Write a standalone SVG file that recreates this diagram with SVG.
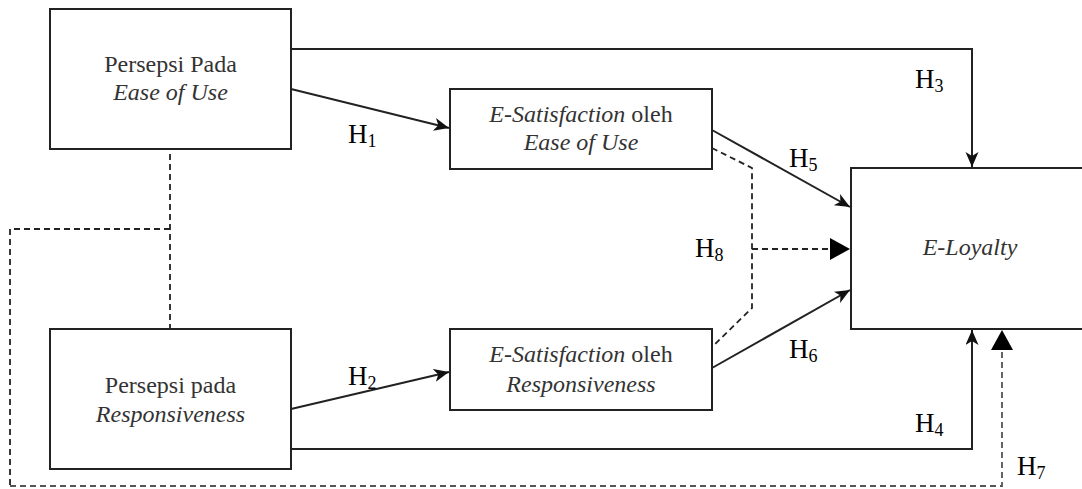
<svg xmlns="http://www.w3.org/2000/svg" width="1082" height="489" viewBox="0 0 1082 489">
<style>
.box{fill:#fff;stroke:#222;stroke-width:2}
.bt{font-family:"Liberation Serif","Times New Roman",serif;font-size:24px;fill:#333;text-anchor:middle}
.it{font-style:italic}
.lbl{font-family:"Liberation Serif","Times New Roman",serif;font-size:27px;fill:#000}
.sub{font-size:18px}
.ln{fill:none;stroke:#222;stroke-width:2}
.ds{fill:none;stroke:#222;stroke-width:1.8;stroke-dasharray:6 4}
.ds2{fill:none;stroke:#555;stroke-width:1.8;stroke-dasharray:6 4}
</style>
<defs>
<marker id="arr" markerUnits="userSpaceOnUse" markerWidth="17" markerHeight="15" refX="15" refY="6.5" orient="auto">
<path d="M0,0 L15,6.5 L0,13 L4,6.5 z" fill="#111" stroke="none"/>
</marker>
<marker id="big" markerUnits="userSpaceOnUse" markerWidth="22" markerHeight="24" refX="20" refY="11" orient="auto">
<path d="M0,0 L20,11 L0,22 z" fill="#000" stroke="none"/>
</marker>
</defs>

<g id="connectors">
<path class="ln" d="M291,49 L972,49 L972,167" marker-end="url(#arr)"/>
<path class="ln" d="M291,89 L449,128" marker-end="url(#arr)"/>
<path class="ln" d="M291,409 L449,372" marker-end="url(#arr)"/>
<path class="ln" d="M712,130 L850,207" marker-end="url(#arr)"/>
<path class="ln" d="M712,368 L850,290" marker-end="url(#arr)"/>
<path class="ln" d="M291,449 L972,449 L972,330" marker-end="url(#arr)"/>
<path class="ds" d="M712,148 L752,168 L752,308 L712,347"/>
<path class="ds" d="M752,249 L850,249" marker-end="url(#big)"/>
<path class="ds" d="M170,154 L170,329"/>
<path class="ds" d="M170,229 L10,229 L10,486"/>
<path class="ds2" d="M10,486 L1002,486 L1002,330" marker-end="url(#big)"/>
</g>

<g id="node-peou">
<rect class="box" x="50" y="9" width="241" height="140"/>
<text class="bt" x="170.5" y="72">Persepsi Pada</text>
<text class="bt it" x="170.5" y="100">Ease of Use</text>
</g>

<g id="node-pr">
<rect class="box" x="50" y="329" width="241" height="140"/>
<text class="bt" x="170.5" y="393">Persepsi pada</text>
<text class="bt it" x="170.5" y="422">Responsiveness</text>
</g>

<g id="node-es-eou">
<rect class="box" x="450" y="89" width="262" height="80"/>
<text class="bt" x="581" y="122"><tspan class="it">E-Satisfaction</tspan> oleh</text>
<text class="bt it" x="581" y="150">Ease of Use</text>
</g>

<g id="node-es-r">
<rect class="box" x="450" y="329" width="262" height="81"/>
<text class="bt" x="581" y="362"><tspan class="it">E-Satisfaction</tspan> oleh</text>
<text class="bt it" x="581" y="392">Responsiveness</text>
</g>

<g id="node-eloyalty">
<rect class="box" x="851" y="168" width="240" height="161"/>
<text class="bt it" x="970" y="255">E-Loyalty</text>
</g>

<g id="labels">
<text class="lbl" x="348" y="143">H<tspan class="sub" dy="4">1</tspan></text>
<text class="lbl" x="348" y="385">H<tspan class="sub" dy="4">2</tspan></text>
<text class="lbl" x="915" y="88">H<tspan class="sub" dy="4">3</tspan></text>
<text class="lbl" x="915" y="432">H<tspan class="sub" dy="4">4</tspan></text>
<text class="lbl" x="789" y="167">H<tspan class="sub" dy="4">5</tspan></text>
<text class="lbl" x="789" y="358">H<tspan class="sub" dy="4">6</tspan></text>
<text class="lbl" x="1017" y="475">H<tspan class="sub" dy="4">7</tspan></text>
<text class="lbl" x="695" y="257">H<tspan class="sub" dy="4">8</tspan></text>
</g>
</svg>
